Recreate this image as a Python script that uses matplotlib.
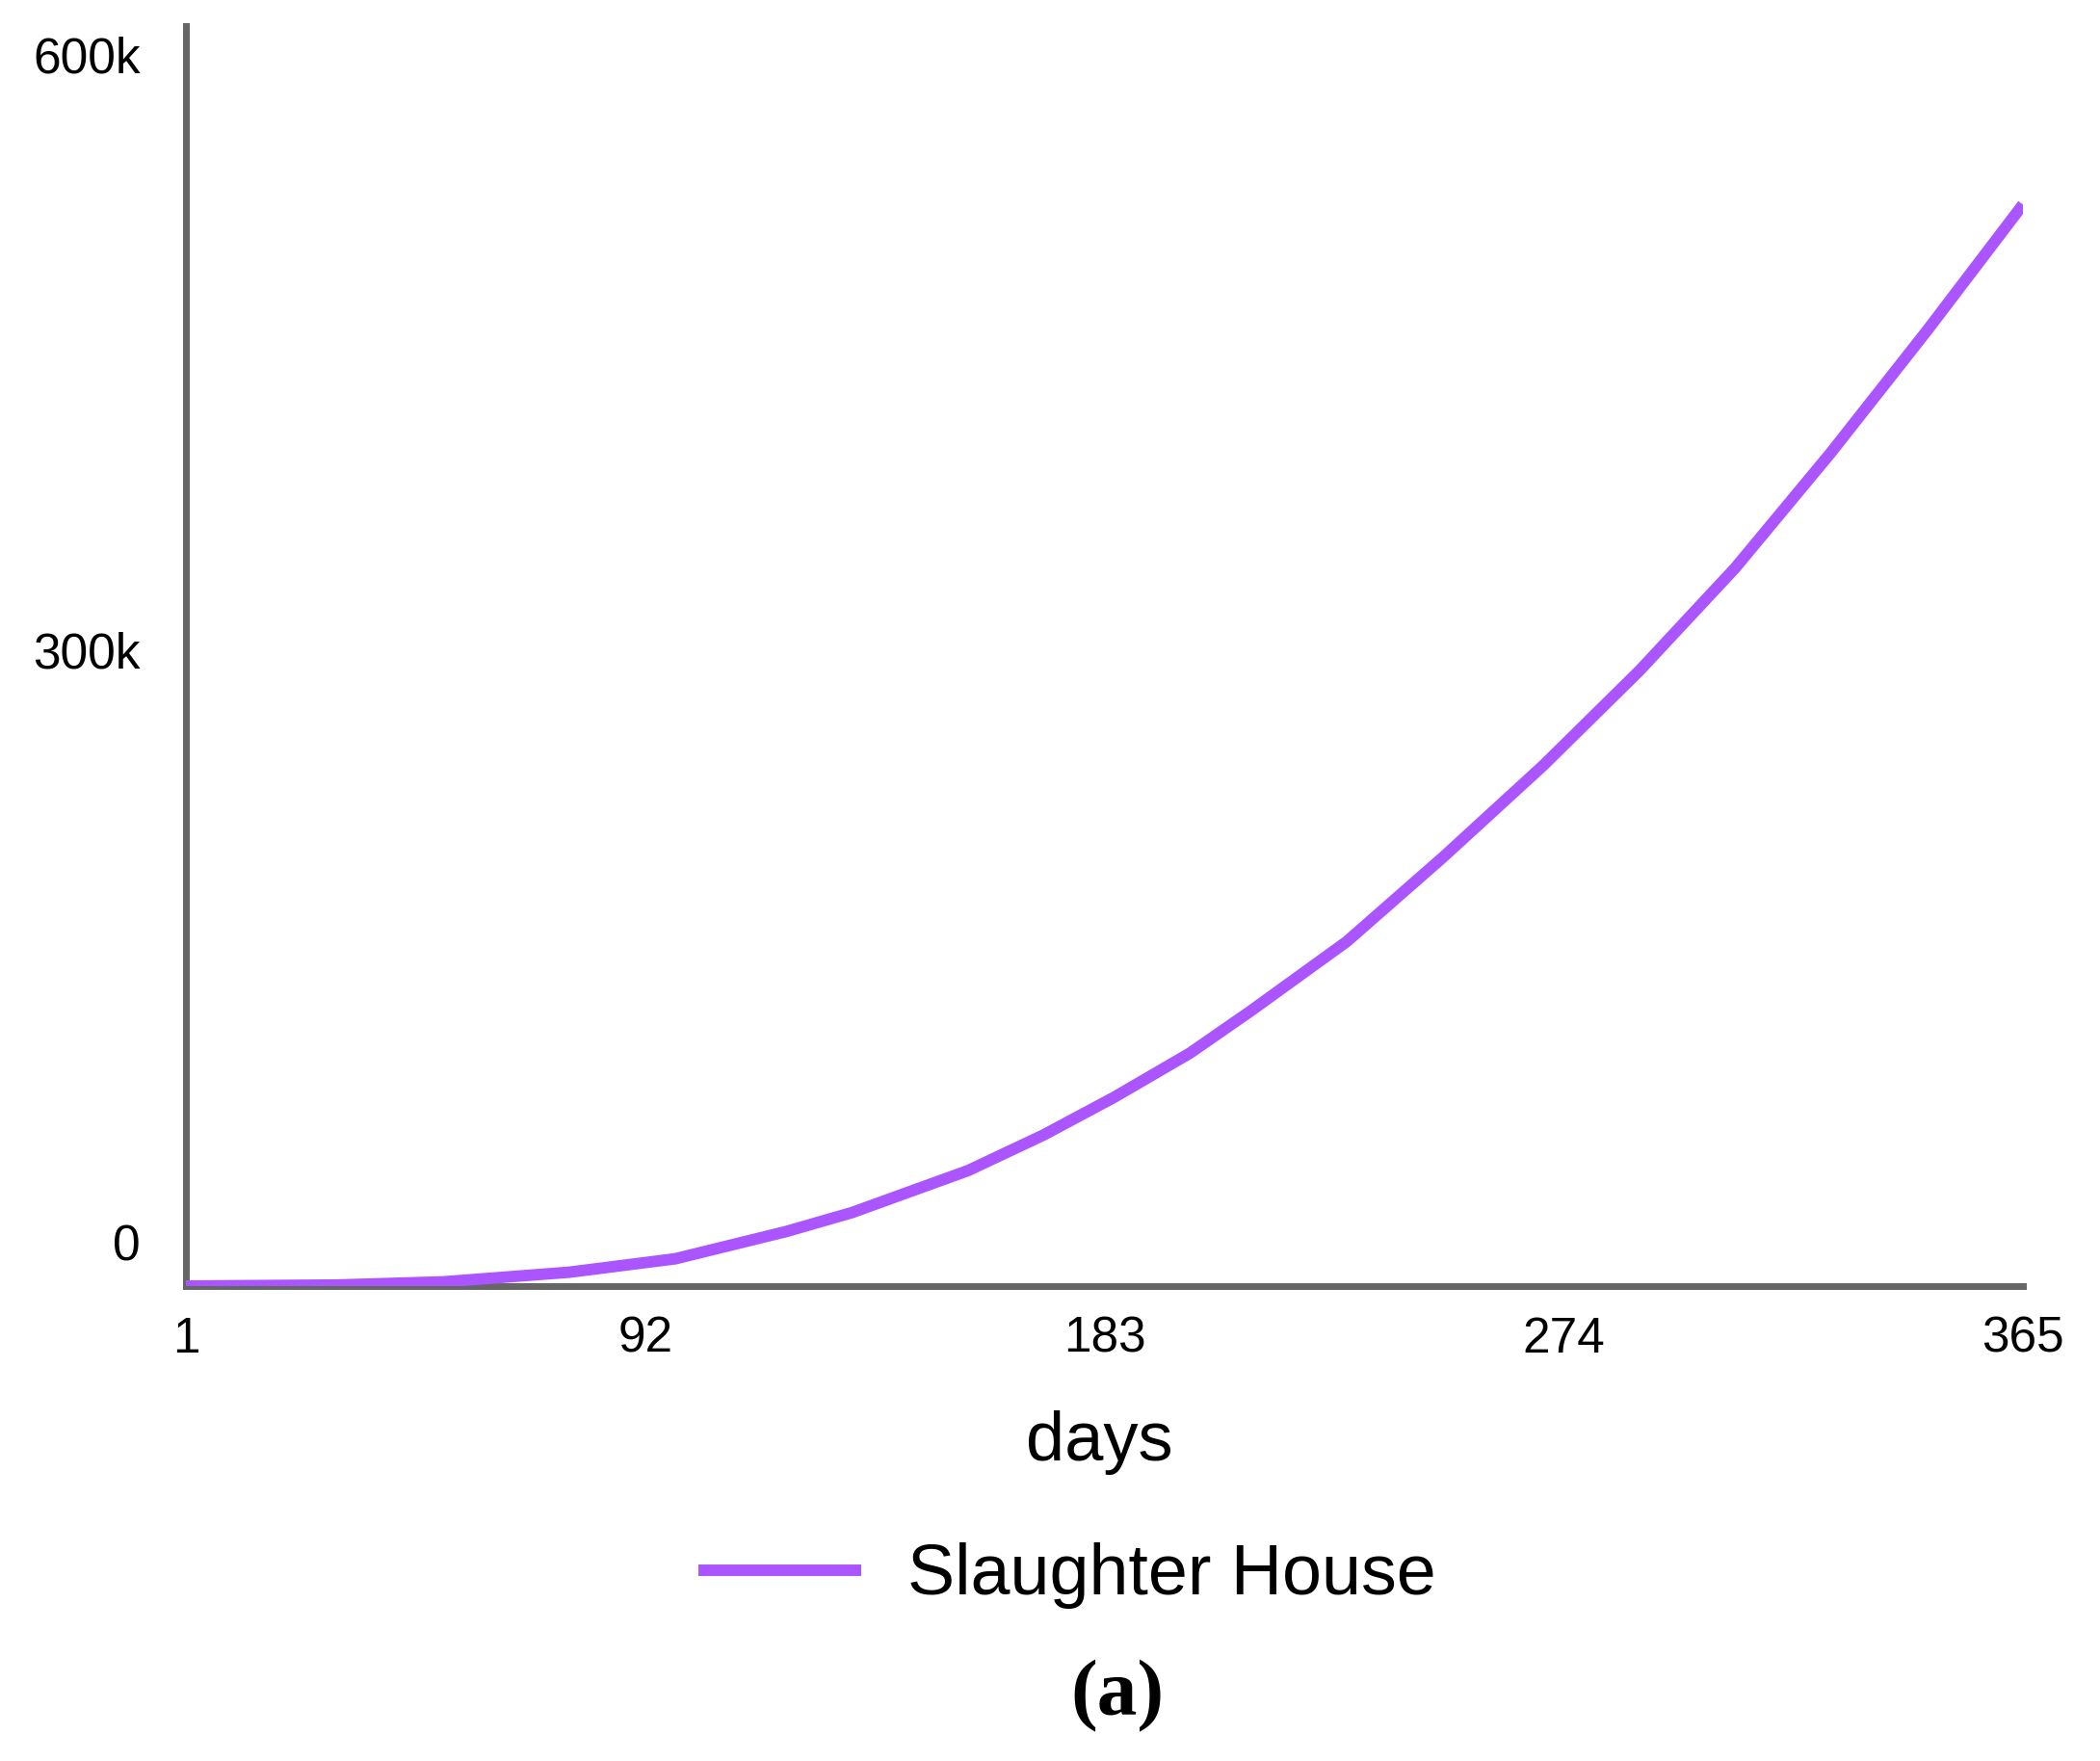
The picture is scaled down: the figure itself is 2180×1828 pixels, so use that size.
import numpy as np
import matplotlib
matplotlib.use("Agg")
import matplotlib.pyplot as plt
from matplotlib.transforms import ScaledTranslation

plt.rcParams['font.family'] = ['Liberation Sans', 'DejaVu Sans']

# Slaughter House stock over one year
days = [1, 31, 52, 77, 98, 120, 133, 156, 171, 185, 200, 212,
        231, 250, 270, 289, 308, 327, 346, 365]
slaughter_house = [0, 500, 2000, 6600, 13000, 26000, 35000, 55000, 72000, 90000,
                   111000, 131000, 164000, 204000, 248000, 293000, 342000,
                   397000, 455000, 515000]

x_ticks = [1, 92, 183, 274, 365]
y_ticks = [0, 300000, 600000]
y_tick_labels = ['0', '300k', '600k']

purple = '#AA55FF'
axis_grey = '#666666'

fig = plt.figure(figsize=(21.8, 18.28), dpi=100)
ax = fig.add_axes([0.0885, 0.2697, 0.8748, 0.7155])

line, = ax.plot(days, slaughter_house, color=purple, lw=8.6,
                solid_capstyle='butt', solid_joinstyle='round',
                label='Slaughter House', zorder=3)

ax.set_xlim(1, 365)
ax.set_ylim(0, 600000)

for side in ['top', 'right']:
    ax.spines[side].set_visible(False)
for side in ['left', 'bottom']:
    ax.spines[side].set_color(axis_grey)
    ax.spines[side].set_linewidth(5)

ax.set_xticks(x_ticks)
ax.set_xticklabels([str(t) for t in x_ticks], fontsize=37)
ax.tick_params(axis='x', length=0, pad=22)
ax.set_yticks([])

# y labels sit inside the axis range, Vensim-style
offsets = [40, 1, -35]  # px shift of each label centre
for val, lab, dy in zip(y_ticks, y_tick_labels, offsets):
    tr = ax.get_yaxis_transform() + ScaledTranslation(-47 / 100, dy / 100, fig.dpi_scale_trans)
    ax.text(0, val, lab, transform=tr, ha='right', va='center', fontsize=37)

fig.text(1141 / 2180, 1 - 1516 / 1828, 'days', ha='center', va='baseline', fontsize=52)

fig.legend(handles=[line], loc='center', bbox_to_anchor=(1108 / 2180, 1 - 1636 / 1828),
           frameon=False, fontsize=53, handlelength=2.3, handletextpad=0.65)

fig.text(1160 / 2180, 1 - 1761 / 1828, '(a)', ha='center', va='center', fontsize=60,
         family='Liberation Serif', fontweight='bold')

fig.savefig('out.png', dpi=100, facecolor='white')
